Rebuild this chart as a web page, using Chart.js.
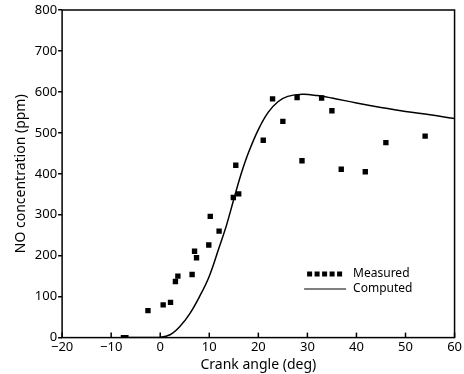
<!DOCTYPE html>
<html>
<head>
<meta charset="utf-8">
<script src="https://cdn.jsdelivr.net/npm/chart.js@4/dist/chart.umd.min.js"></script>
<style>
  html, body { margin: 0; padding: 0; background: #fff; }
  #wrap { width: 464px; height: 374px; }
</style>
</head>
<body>
<div id="wrap"><canvas id="grafico"></canvas></div>
<script>
// measured NO (crank angle deg, ppm)
const medidoX = [-7.5, -7, -2.5, 0.6, 2.1, 3.1, 3.6, 6.5, 7.0, 7.4, 9.9, 10.2, 12.0, 14.9, 15.4, 16.0,
  21.0, 22.9, 25.0, 27.9, 28.9, 32.9, 35.0, 36.9, 41.8, 46.0, 54.0];
const medidoY = [0, 0, 66, 80, 86, 137, 150, 154, 211, 195, 226, 296, 260, 342, 421, 351,
  482, 583, 528, 586, 432, 585, 554, 411, 405, 476, 492];

// computed curve
const calcX = [-8, -4, 0, 2, 4, 6, 8, 10, 12, 13.5, 15, 16.5, 18, 20, 22, 24, 26, 29, 32, 35, 40, 45, 50, 55, 60];
const calcY = [0, 0, 1, 7, 27, 58, 100, 150, 220, 274, 338, 400, 452, 508, 550, 576, 589, 594, 591, 585, 573, 562, 552, 544, 535];

const xTicks = [-20, -10, 0, 10, 20, 30, 40, 50, 60];
const yTicks = [0, 100, 200, 300, 400, 500, 600, 700, 800];

const fonte = "'Noto Sans', 'DejaVu Sans', sans-serif";

const pontos = medidoX.map((x, i) => ({ x: x, y: medidoY[i] }));
const curva = calcX.map((x, i) => ({ x: x, y: calcY[i] }));

// frame, inner x ticks and legend
const moldura = {
  id: "moldura",
  afterDraw(chart) {
    const c = chart.ctx;
    const a = chart.chartArea;
    c.save();
    c.strokeStyle = "#000";
    c.lineWidth = 1.5;
    c.strokeRect(a.left, a.top, a.right - a.left, a.bottom - a.top);
    // x ticks pointing up
    const sx = chart.scales.x;
    xTicks.forEach(v => {
      const p = sx.getPixelForValue(v);
      c.beginPath();
      c.moveTo(p, a.bottom);
      c.lineTo(p, a.bottom - 5);
      c.stroke();
    });
    // legend
    const lx = a.left + 245, ly = a.top + 264;
    c.fillStyle = "#000";
    for (let i = 0; i < 5; i++) c.fillRect(lx + i * 7.5, ly - 2.5, 5, 5);
    c.lineWidth = 1.2;
    c.beginPath();
    c.moveTo(lx - 3, ly + 15);
    c.lineTo(lx + 39, ly + 15);
    c.stroke();
    c.font = "12px " + fonte;
    c.textBaseline = "middle";
    c.fillText("Measured", lx + 46, ly);
    c.fillText("Computed", lx + 46, ly + 15);
    c.restore();
  }
};

new Chart(document.getElementById("grafico"), {
  type: "scatter",
  data: {
    datasets: [
      {
        label: "Measured",
        data: pontos,
        pointStyle: "rect",
        pointRadius: 3.8,
        backgroundColor: "#000",
        borderColor: "#000",
        borderWidth: 0
      },
      {
        label: "Computed",
        type: "line",
        data: curva,
        showLine: true,
        pointRadius: 0,
        borderColor: "#000",
        borderWidth: 1.5,
        tension: 0.4,
        fill: false
      }
    ]
  },
  options: {
    responsive: true,
    maintainAspectRatio: false,
    animation: false,
    layout: { padding: { top: 10, right: 9, left: 13, bottom: 0 } },
    plugins: { legend: { display: false }, tooltip: { enabled: false } },
    scales: {
      x: {
        type: "linear",
        min: -20,
        max: 60,
        afterBuildTicks: s => { s.ticks = xTicks.map(v => ({ value: v })); },
        grid: { display: false, drawTicks: false },
        border: { display: false },
        ticks: { color: "#000", font: { family: fonte, size: 13 }, padding: 2, maxRotation: 0,
          callback: v => v < 0 ? "\u2212" + Math.abs(v) : v },
        title: { display: true, text: "Crank angle (deg)", color: "#000",
          font: { family: fonte, size: 14 }, padding: { top: -1, bottom: 1 } }
      },
      y: {
        min: 0,
        max: 800,
        afterBuildTicks: s => { s.ticks = yTicks.map(v => ({ value: v })); },
        grid: { drawOnChartArea: false, tickLength: 4, color: "#000", lineWidth: 1.5 },
        border: { display: false },
        ticks: { color: "#000", font: { family: fonte, size: 13 }, padding: 1 },
        title: { display: true, text: "NO concentration (ppm)", color: "#000",
          font: { family: fonte, size: 14 }, padding: { top: 0, bottom: 4 } }
      }
    }
  },
  plugins: [moldura]
});
</script>
</body>
</html>
